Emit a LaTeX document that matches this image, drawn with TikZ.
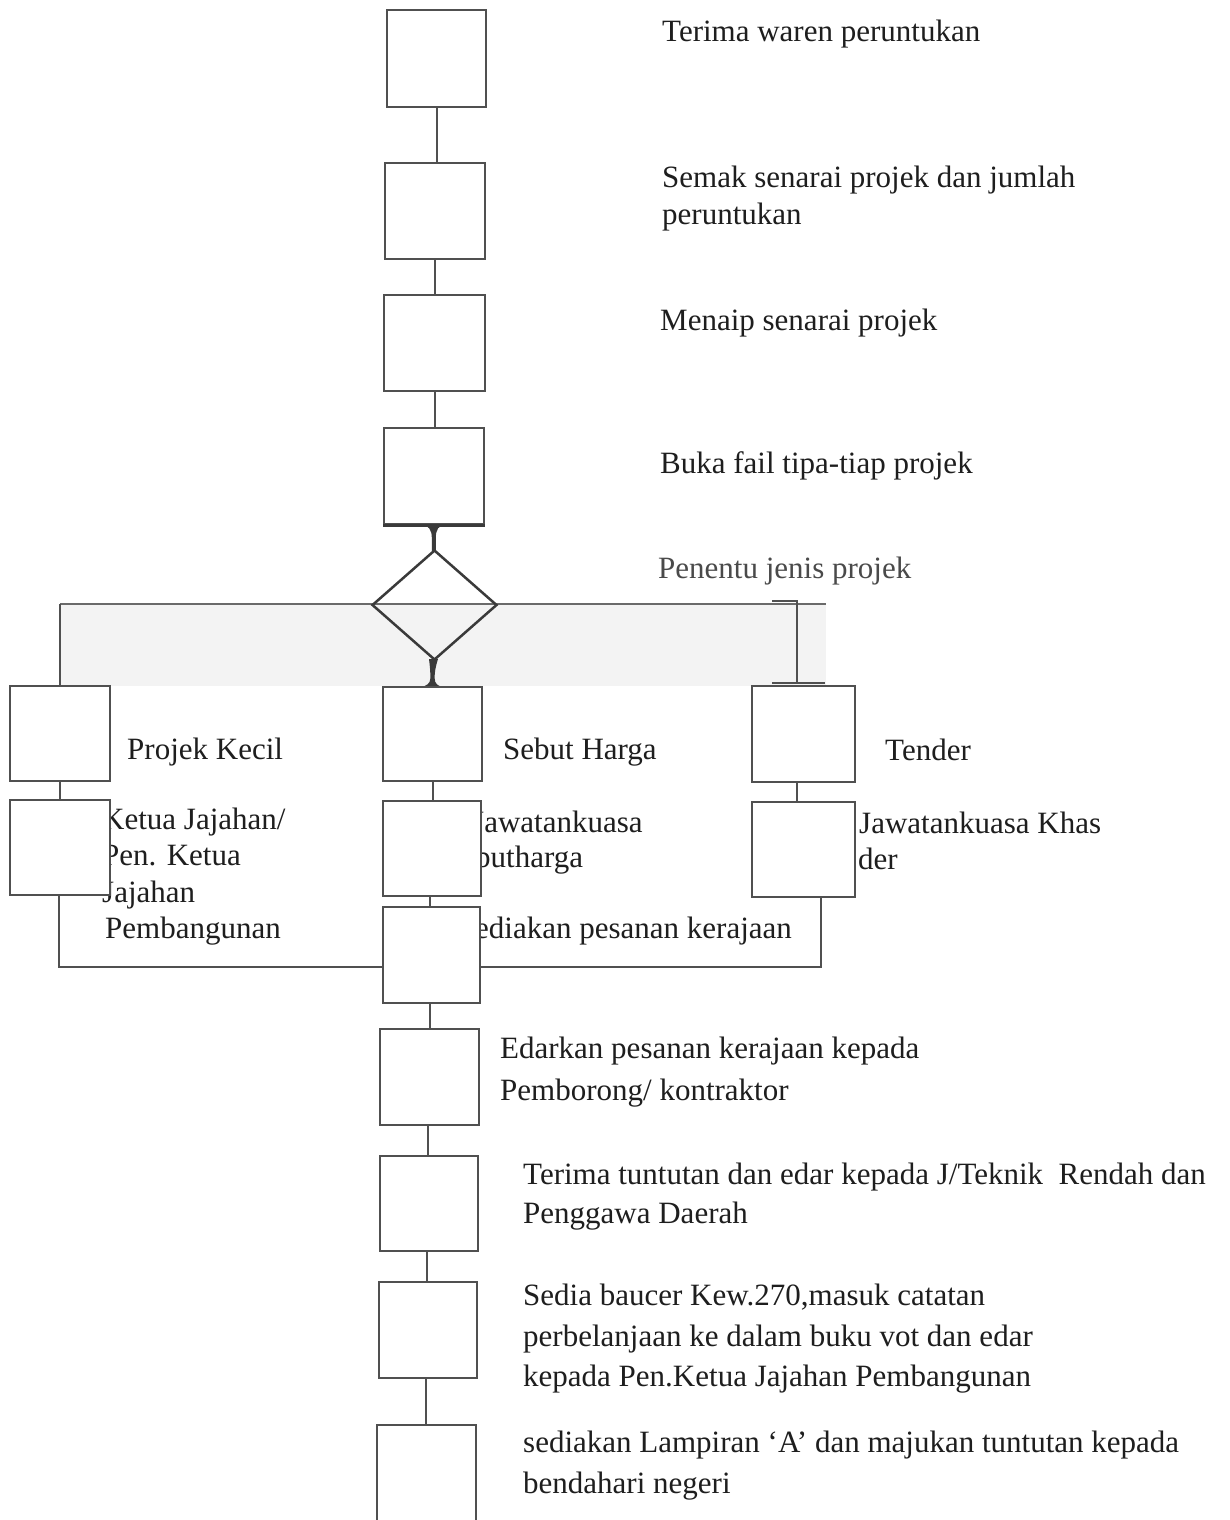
\documentclass[tikz,border=0pt]{standalone}
\usepackage{fontspec}
\setmainfont{Liberation Serif}
\usetikzlibrary{shapes.geometric,calc}
\definecolor{ln}{HTML}{505050}
\definecolor{dk}{HTML}{3A3A3A}
\definecolor{tx}{HTML}{1E1E1E}
\definecolor{bandc}{HTML}{F3F3F3}
\definecolor{gtx}{HTML}{4A4A4A}
\pgfdeclarelayer{bg}
\pgfdeclarelayer{mid}
\pgfsetlayers{bg,mid,main}
\begin{document}
\begin{tikzpicture}[x=1pt,y=-1pt,
  box/.style={draw=ln,line width=2pt,fill=white,inner sep=0pt,rectangle},
  lbl/.style={anchor=base west,inner sep=0pt,text=tx,font=\fontsize{31}{38}\selectfont},
  conn/.style={draw=ln,line width=2pt},
  flare/.style={fill=dk}]
\useasboundingbox (0,0) rectangle (1229,1520);
\begin{pgfonlayer}{bg}
\fill[white] (0,0) rectangle (1229,1520);
\fill[bandc] (60,605) rectangle (826,686);
\end{pgfonlayer}
% boxes (main layer, on top)
\node[box,minimum width=99pt,minimum height=97pt] (b1) at (436.5,58.5) {};
\node[box,minimum width=100pt,minimum height=96pt] (b2) at (435,211) {};
\node[box,minimum width=101pt,minimum height=96pt] (b3) at (434.5,343) {};
\node[box,minimum width=100pt,minimum height=96pt] (b4) at (434,476) {};
\node[draw=dk,line width=2.5pt,shape=diamond,inner sep=0pt,minimum width=125pt,minimum height=110pt] (dia) at (434.5,605) {};
\node[box,minimum width=100pt,minimum height=95pt] (r1l) at (60,733.5) {};
\node[box,minimum width=99pt,minimum height=94pt] (r1m) at (432.5,734) {};
\node[box,minimum width=103pt,minimum height=96pt] (r1r) at (803.5,734) {};
\node[box,minimum width=100pt,minimum height=95pt] (r2l) at (60,847.5) {};
\node[box,minimum width=98pt,minimum height=95pt] (r2m) at (432,848.5) {};
\node[box,minimum width=103pt,minimum height=95pt] (r2r) at (803.5,849.5) {};
\node[box,minimum width=97pt,minimum height=96pt] (r3m) at (431.5,955) {};
\node[box,minimum width=99pt,minimum height=96pt] (b5) at (429.5,1077) {};
\node[box,minimum width=98pt,minimum height=95pt] (b6) at (429,1203.5) {};
\node[box,minimum width=98pt,minimum height=96pt] (b7) at (428,1330) {};
\node[box,minimum width=99pt,minimum height=97pt] (b8) at (426.5,1473.5) {};
\draw[dk,line width=3pt] (b4.south west) -- (b4.south east);
\begin{pgfonlayer}{mid}
% connectors
\draw[conn] (b1.south) -- (b1.south |- b2.north);
\draw[conn] (b2.south) -- (b2.south |- b3.north);
\draw[conn] (b3.south) -- (b3.south |- b4.north);
\draw[dk,line width=2.5pt] (b4.south) -- (dia.north);
\fill[flare] (420,524) .. controls (429,525) and (431.8,530) .. (431.8,538) -- (431.8,551) -- (435.8,551) -- (435.8,538) .. controls (435.8,530) and (438,525) .. (447,524) -- cycle;
\fill[flare] (429,659) -- (438,659) .. controls (435.5,667) and (434.6,672) .. (434.6,678) .. controls (434.6,684) and (438,686) .. (443,687) -- (421,687) .. controls (426,686) and (430.4,684) .. (430.4,678) .. controls (430.4,672) and (430,667) .. (429,659) -- cycle;
\coordinate (lt) at (60,604);
\coordinate (rend) at (826,604);
\draw[conn,draw=ln!85] (lt) -- (rend);
\draw[conn] (lt) -- (r1l.north);
\coordinate (rt) at (797,601);
\coordinate (rb) at (797,683);
\coordinate (rtk) at (772,601);
\coordinate (rbk1) at (772,683);
\coordinate (rbk2) at (825,683);
\draw[conn] (rtk) -- (rt) -- (rb);
\draw[conn] (rbk1) -- (rbk2);
\draw[conn] (r1l.south) -- (r2l.north);
\draw[conn] (r1m.south) -- (r1m.south |- r2m.north);
\draw[conn] ([xshift=-7pt]r1r.south) -- ([xshift=-7pt]r1r.south |- r2r.north);
\draw[conn] ([xshift=-2pt]r2m.south) -- ([xshift=-2pt]r2m.south |- r3m.north);
\coordinate (jl) at (59,967);
\coordinate (jr) at (821,967);
\draw[conn] ([xshift=-1pt]r2l.south) -- (jl) -- (jr) -- ([xshift=17.5pt]r2r.south);
\draw[conn] ([xshift=-2pt]r3m.south) -- ([xshift=-2pt]r3m.south |- b5.north);
\draw[conn] ([xshift=-1.5pt]b5.south) -- ([xshift=-1.5pt]b5.south |- b6.north);
\draw[conn] ([xshift=-2pt]b6.south) -- ([xshift=-2pt]b6.south |- b7.north);
\draw[conn] ([xshift=-2pt]b7.south) -- ([xshift=-2pt]b7.south |- b8.north);
% labels
\node[lbl] (t1) at (662,42) {Terima waren peruntukan};
\node[lbl] (t2a) at (662,187) {Semak senarai projek dan jumlah};
\node[lbl] (t2b) at (662,224) {peruntukan};
\node[lbl] (t3) at (660,330) {Menaip senarai projek};
\node[lbl] (t4) at (660,473) {Buka fail tipa-tiap projek};
\node[lbl,text=gtx] (td) at (658,578) {Penentu jenis projek};
\node[lbl] (tpk) at (127,759) {Projek Kecil};
\node[lbl] (tsh) at (503,759) {Sebut Harga};
\node[lbl] (ttd) at (885,760) {Tender};
\node[lbl] (tk1) at (102,829) {Ketua Jajahan/};
\node[lbl] (tk2) at (102,865) {Pen. Ketua};
\node[lbl] (tk3) at (102,902) {Jajahan};
\node[lbl] (tk4) at (105,938) {Pembangunan};
\node[lbl] (tj1) at (472,832) {Jawatankuasa};
\node[lbl] (tj2) at (475,867) {butharga};
\node[lbl] (tjk1) at (859,833) {Jawatankuasa Khas};
\node[lbl] (tjk2) at (858,869) {der};
\node[lbl] (tsp) at (475,938) {ediakan pesanan kerajaan};
\node[lbl] (te1) at (500,1058) {Edarkan pesanan kerajaan kepada};
\node[lbl] (te2) at (500,1100) {Pemborong/ kontraktor};
\node[lbl] (tt1) at (523,1184) {Terima tuntutan dan edar kepada J/Teknik\ \ Rendah dan};
\node[lbl] (tt2) at (523,1223) {Penggawa Daerah};
\node[lbl] (ts1) at (523,1305) {Sedia baucer Kew.270,masuk catatan};
\node[lbl] (ts2) at (523,1346) {perbelanjaan ke dalam buku vot dan edar};
\node[lbl] (ts3) at (523,1386) {kepada Pen.Ketua Jajahan Pembangunan};
\node[lbl] (tl1) at (523,1452) {sediakan Lampiran ‘A’ dan majukan tuntutan kepada};
\node[lbl] (tl2) at (523,1493) {bendahari negeri};
\end{pgfonlayer}
\end{tikzpicture}
\end{document}
